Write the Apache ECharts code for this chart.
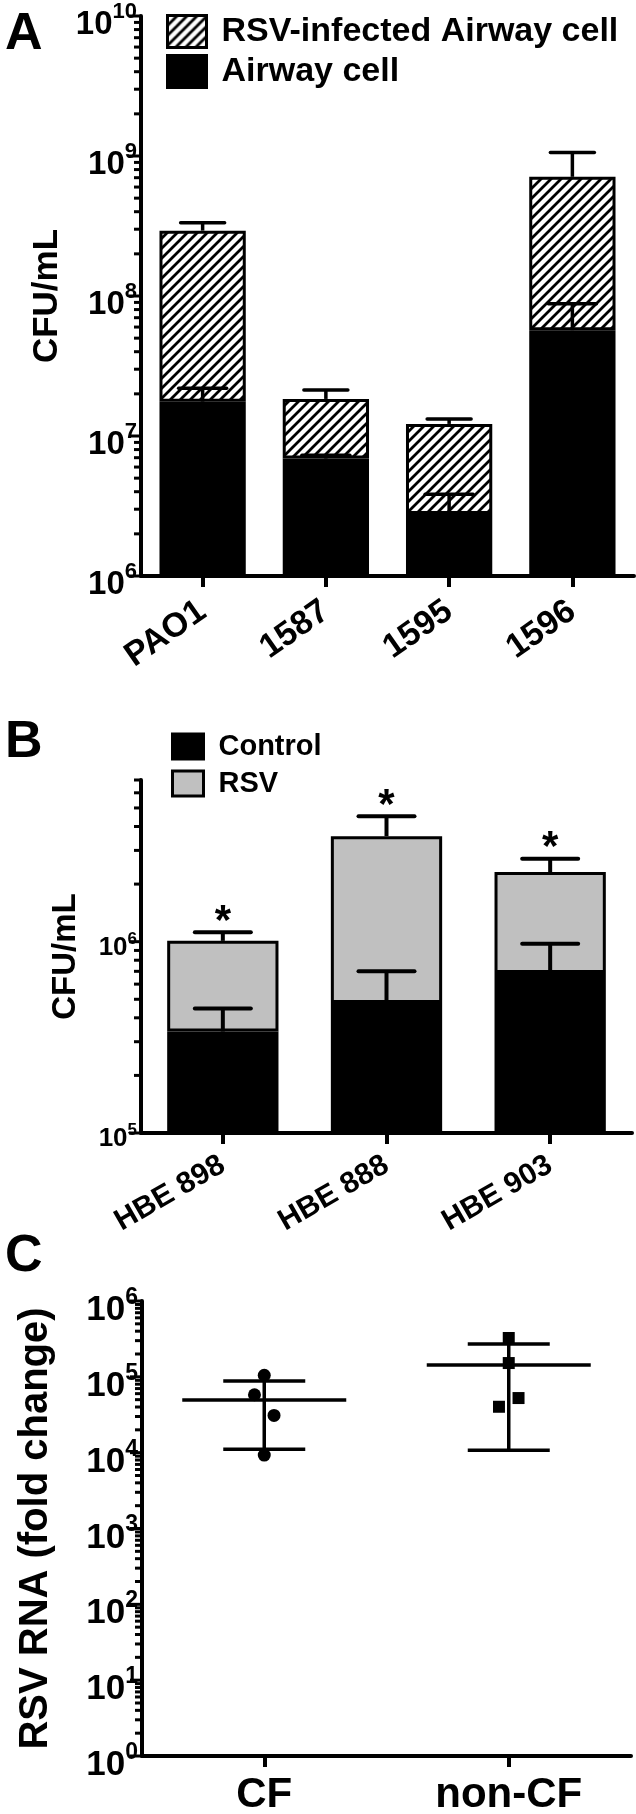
<!DOCTYPE html>
<html><head><meta charset="utf-8">
<script src="https://cdn.jsdelivr.net/npm/echarts@6/dist/echarts.min.js"></script>
<style>html,body{margin:0;padding:0;background:#fff}#c{width:636px;height:1814px}</style>
</head><body><div id="c"></div>
<script>
// ---------- Panel A ----------
const strainsA = ['PAO1', '1587', '1595', '1596'];
const airwayA = [1.76e7, 6.9e6, 2.77e6, 5.7e7];
const airwayErrA = [2.19e7, 7.3e6, 3.83e6, 8.8e7];
const totalA = [2.93e8, 1.84e7, 1.22e7, 7.1e8];
const totalErrA = [3.34e8, 2.13e7, 1.32e7, 1.06e9];
const majorTicksA = [1e6, 1e7, 1e8, 1e9, 1e10];
// ---------- Panel B ----------
const donorsB = ['HBE 898', 'HBE 888', 'HBE 903'];
const controlB = [3.39e5, 4.78e5, 6.86e5];
const controlErrB = [4.48e5, 7.0e5, 9.76e5];
const totalB = [1.01e6, 3.56e6, 2.31e6];
const totalErrB = [1.12e6, 4.53e6, 2.71e6];
const starsB = ['*', '*', '*'];
const majorTicksB = [1e5, 1e6];
// ---------- Panel C ----------
const groupsC = ['CF', 'non-CF'];
const cfX = [0.0, -0.04, 0.04, 0.0];
const cfY = [1.05e5, 5.8e4, 3.1e4, 9.3e3];
const noncfX = [1.0, 1.0, 0.96, 1.04];
const noncfY = [3.25e5, 1.52e5, 4.03e4, 5.25e4];
const meanC = [4.94e4, 1.43e5];
const sdLowC = [1.11e4, 1.08e4];
const sdHighC = [8.8e4, 2.71e5];
const majorTicksC = [1, 10, 100, 1e3, 1e4, 1e5, 1e6];

const FONT = '"Liberation Sans", Arial, Helvetica, sans-serif';

function minorTicks(lo, hi) {
  const out = [];
  for (let d = lo; d < hi; d *= 10) for (let k = 2; k <= 9; k++) if (d * k <= hi) out.push(d * k);
  return out;
}
function tickData(major, lo, hi) {
  return major.map(v => [0, v, 1]).concat(minorTicks(lo, hi).map(v => [0, v, 0]));
}
function hatch() {
  const s = 10, c = document.createElement('canvas');
  c.width = s; c.height = s;
  const g = c.getContext('2d');
  g.fillStyle = '#fff'; g.fillRect(0, 0, s, s);
  g.strokeStyle = '#000'; g.lineWidth = 2.8;
  g.beginPath();
  g.moveTo(-2, s + 2); g.lineTo(s + 2, -2);
  g.moveTo(-s / 2 - 2, s / 2 + 2); g.lineTo(s / 2 + 2, -s / 2 - 2);
  g.moveTo(s / 2 - 2, 1.5 * s + 2); g.lineTo(1.5 * s + 2, s / 2 - 2);
  g.stroke();
  return c;
}
const hatchFill = { image: hatch(), repeat: 'repeat' };

function logFormatter(ticks) {
  return function (v) {
    const e = Math.log10(v);
    const r = Math.round(e);
    if (Math.abs(e - r) > 1e-6) return '';
    if (!ticks.some(t => Math.abs(Math.log10(t) - r) < 1e-6)) return '';
    return '{b|10}{s|' + r + '}';
  };
}
function richFor(main, sup, lh) {
  return {
    b: { fontSize: main, fontWeight: 'bold', fontFamily: FONT, color: '#000', lineHeight: lh, verticalAlign: 'bottom' },
    s: { fontSize: sup, fontWeight: 'bold', fontFamily: FONT, color: '#000', lineHeight: sup, verticalAlign: 'top' }
  };
}
function yAxisCommon(gi, min, max, ticks, name, nameSize, nameGap, main, sup, lh, pad) {
  return {
    type: 'log', logBase: 10, gridIndex: gi, min: min, max: max,
    axisLine: { show: true, onZero: false, lineStyle: { color: '#000', width: 4 } },
    axisTick: { show: false }, splitLine: { show: false }, minorTick: { show: false },
    axisLabel: { formatter: logFormatter(ticks), margin: 4, rich: richFor(main, sup, lh), padding: [pad, 0, 0, 0] },
    name: name, nameLocation: 'middle', nameGap: nameGap, nameRotate: 90,
    nameTextStyle: { fontSize: nameSize, fontWeight: 'bold', fontFamily: FONT, color: '#000' }
  };
}
function xCat(gi, data, rotate, size, margin) {
  return {
    type: 'category', gridIndex: gi, data: data,
    axisLine: { show: true, onZero: false, lineStyle: { color: '#000', width: 4 } },
    axisTick: { show: true, alignWithLabel: true, length: 11, lineStyle: { color: '#000', width: 4 } },
    axisLabel: { interval: 0, rotate: rotate, fontSize: size, fontWeight: 'bold', fontFamily: FONT, color: '#000', margin: margin },
    splitLine: { show: false }
  };
}
function tickSeries(xi, yi, data) {
  return {
    type: 'custom', xAxisIndex: xi, yAxisIndex: yi, data: data, silent: true, z: 5,
    renderItem: function (params, api) {
      const y = api.coord([0, api.value(1)])[1];
      const x0 = params.coordSys.x;
      const len = api.value(2) ? 12 : 7;
      return { type: 'line', shape: { x1: x0 - len, y1: y, x2: x0, y2: y }, style: { stroke: '#000', lineWidth: 3 } };
    }
  };
}
function errSeries(xi, yi, lo, hi, half, lw) {
  return {
    type: 'custom', xAxisIndex: xi, yAxisIndex: yi, silent: true, z: 6,
    data: lo.map((v, i) => [i, v, hi[i]]),
    renderItem: function (params, api) {
      const p0 = api.coord([api.value(0), api.value(1)]);
      const p1 = api.coord([api.value(0), api.value(2)]);
      return { type: 'group', children: [
        { type: 'line', shape: { x1: p0[0], y1: p0[1], x2: p1[0], y2: p1[1] }, style: { stroke: '#000', lineWidth: lw } },
        { type: 'line', shape: { x1: p1[0] - half, y1: p1[1], x2: p1[0] + half, y2: p1[1] }, style: { stroke: '#000', lineWidth: lw, lineCap: 'round' } }
      ] };
    }
  };
}

const chart = echarts.init(document.getElementById('c'), null, { renderer: 'canvas' });
const option = {
  animation: false,
  backgroundColor: '#fff',
  textStyle: { fontFamily: FONT },
  title: [
    { text: 'A', left: 0, top: 4, textStyle: { fontSize: 52, fontWeight: 'bold', fontFamily: FONT, color: '#000' } },
    { text: 'B', left: 0, top: 712, textStyle: { fontSize: 52, fontWeight: 'bold', fontFamily: FONT, color: '#000' } },
    { text: 'C', left: 0, top: 1226, textStyle: { fontSize: 52, fontWeight: 'bold', fontFamily: FONT, color: '#000' } }
  ],
  grid: [
    { left: 141, top: 16, width: 493, height: 560, outerBoundsMode: 'none' },
    { left: 141, top: 780, width: 491, height: 353, outerBoundsMode: 'none' },
    { left: 142, top: 1301, width: 489, height: 455, outerBoundsMode: 'none' }
  ],
  legend: [
    { data: ['RSV-infected Airway cell', 'Airway cell'], orient: 'vertical', left: 161, top: 9,
      itemWidth: 39, itemHeight: 32, itemGap: 5, icon: 'rect', selectedMode: false,
      itemStyle: { borderColor: '#000', borderWidth: 3 },
      textStyle: { fontSize: 34, fontWeight: 'bold', fontFamily: FONT, color: '#000', padding: [0, 0, 0, 10] } },
    { data: ['Control', 'RSV'], orient: 'vertical', left: 166, top: 727,
      itemWidth: 31, itemHeight: 25, itemGap: 8, icon: 'rect', selectedMode: false,
      itemStyle: { borderColor: '#000', borderWidth: 3 },
      textStyle: { fontSize: 29, fontWeight: 'bold', fontFamily: FONT, color: '#000', padding: [0, 0, 0, 10] } }
  ],
  xAxis: [
    xCat(0, strainsA, 35, 34, 32),
    xCat(1, donorsB, 30, 30, 30),
    xCat(2, groupsC, 0, 42, 18),
    { type: 'value', gridIndex: 2, min: -0.5, max: 1.5, show: false }
  ],
  yAxis: [
    yAxisCommon(0, 1e6, 1e10, majorTicksA, 'CFU/mL', 35, 54, 33, 22, 40, 10),
    yAxisCommon(1, 1e5, 7e6, majorTicksB, 'CFU/mL', 33, 59, 26, 17, 30, 8),
    yAxisCommon(2, 1, 1e6, majorTicksC, 'RSV RNA (fold change)', 40, 86, 35, 23, 42, 12)
  ],
  series: [
    // Panel A bars
    { name: 'Airway cell', type: 'bar', xAxisIndex: 0, yAxisIndex: 0, stack: 'a', barWidth: '70%', clip: true,
      data: airwayA, itemStyle: { color: '#000', borderColor: '#000', borderWidth: 3 } },
    { name: 'RSV-infected Airway cell', type: 'bar', xAxisIndex: 0, yAxisIndex: 0, stack: 'a', barWidth: '70%', clip: true,
      data: totalA.map((t, i) => t - airwayA[i]), itemStyle: { color: hatchFill, borderColor: '#000', borderWidth: 3 } },
    errSeries(0, 0, airwayA, airwayErrA, 24, 3.5),
    errSeries(0, 0, totalA, totalErrA, 22, 3.5),
    tickSeries(0, 0, tickData(majorTicksA, 1e6, 1e10)),
    // Panel B bars
    { name: 'Control', type: 'bar', xAxisIndex: 1, yAxisIndex: 1, stack: 'b', barWidth: '68%', clip: true,
      data: controlB, itemStyle: { color: '#000', borderColor: '#000', borderWidth: 3 } },
    { name: 'RSV', type: 'bar', xAxisIndex: 1, yAxisIndex: 1, stack: 'b', barWidth: '68%', clip: true,
      data: totalB.map((t, i) => t - controlB[i]), itemStyle: { color: '#c0c0c0', borderColor: '#000', borderWidth: 3 } },
    errSeries(1, 1, controlB, controlErrB, 28, 4),
    errSeries(1, 1, totalB, totalErrB, 28, 4),
    { type: 'custom', xAxisIndex: 1, yAxisIndex: 1, silent: true, z: 7,
      data: totalErrB.map((v, i) => [i, v]),
      renderItem: function (params, api) {
        const p = api.coord([api.value(0), api.value(1)]);
        return { type: 'text', x: p[0], y: p[1] - 10,
          style: { text: starsB[params.dataIndex], fontSize: 42, fontWeight: 'bold', fontFamily: FONT, fill: '#000', align: 'center', verticalAlign: 'middle' } };
      } },
    tickSeries(1, 1, tickData(majorTicksB, 1e5, 7e6)),
    // Panel C
    { type: 'custom', xAxisIndex: 3, yAxisIndex: 2, silent: true, z: 3,
      data: meanC.map((m, i) => [i, m, sdLowC[i], sdHighC[i]]),
      renderItem: function (params, api) {
        const x = api.value(0);
        const pm = api.coord([x, api.value(1)]);
        const pl = api.coord([x, api.value(2)]);
        const ph = api.coord([x, api.value(3)]);
        const st = { stroke: '#000', lineWidth: 3.5 };
        return { type: 'group', children: [
          { type: 'line', shape: { x1: pm[0] - 82, y1: pm[1], x2: pm[0] + 82, y2: pm[1] }, style: st },
          { type: 'line', shape: { x1: pl[0], y1: pl[1], x2: ph[0], y2: ph[1] }, style: st },
          { type: 'line', shape: { x1: ph[0] - 41, y1: ph[1], x2: ph[0] + 41, y2: ph[1] }, style: st },
          { type: 'line', shape: { x1: pl[0] - 41, y1: pl[1], x2: pl[0] + 41, y2: pl[1] }, style: st }
        ] };
      } },
    { type: 'scatter', xAxisIndex: 3, yAxisIndex: 2, symbol: 'circle', symbolSize: 13, z: 4,
      data: cfX.map((x, i) => [x, cfY[i]]), itemStyle: { color: '#000', opacity: 1 } },
    { type: 'scatter', xAxisIndex: 3, yAxisIndex: 2, symbol: 'rect', symbolSize: 12, z: 4,
      data: noncfX.map((x, i) => [x, noncfY[i]]), itemStyle: { color: '#000', opacity: 1 } },
    tickSeries(2, 2, tickData(majorTicksC, 1, 1e6))
  ]
};
chart.setOption(option);
</script>
</body></html>
